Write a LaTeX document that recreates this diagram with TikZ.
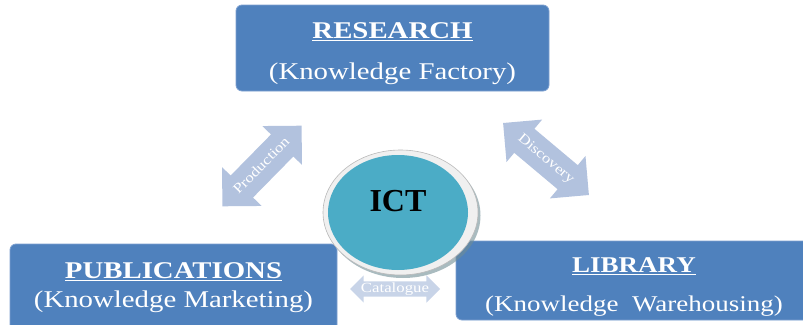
\documentclass[tikz,border=0pt]{standalone}
\usepackage{fontspec}
\setmainfont{Liberation Serif}
\newfontfamily\widefont{Liberation Serif}[FakeStretch=1.2]
\usetikzlibrary{
    shapes.geometric, % for the ellipse in the middle
    shapes.arrows,    % for the double arrows between the parts
    shadows           % for the shadow under the ellipse
}

\definecolor{boxblue}{RGB}{79,129,189}
\definecolor{boxedge}{RGB}{125,160,208}
\definecolor{arrowblue}{RGB}{178,194,222}
\definecolor{paleblue}{RGB}{200,212,232}
\definecolor{ictteal}{RGB}{75,172,198}
\definecolor{rimgray}{RGB}{240,240,240}

% text inside an arrow may run into the heads
\newcommand\arrowlabel[1]{\hbox to 0pt{\hss#1\hss}}

\begin{document}
\begin{tikzpicture}[
        x=1pt,y=-1pt,
        part/.style      = {rectangle,rounded corners=6pt,fill=boxblue,draw=boxedge,line width=0.8pt,inner sep=0pt},
        part text/.style = {text=white,align=center,inner sep=0pt,font=\widefont\fontsize{24}{29}\selectfont},
        link/.style      = {double arrow,double arrow head extend=12pt,fill=arrowblue,text=white,
                            inner xsep=0pt,inner ysep=9pt,text height=10pt,text depth=3pt,
                            font=\widefont\fontsize{14}{14}\selectfont}
    ]

    \clip (0,0) rectangle (803,324);

    % the three parts
    \node [part,minimum width=313pt,minimum height=86pt] (research) at (392.5,48) {};
    \node [part text] (research text) at (392.5,53.5)
        {\underline{\textbf{RESEARCH}}\\[12pt](Knowledge Factory)};

    \node [part,minimum width=327pt,minimum height=90pt] (publications) at (173.5,289) {};
    \node [part text] (publications text) at (173.5,288)
        {\underline{\textbf{PUBLICATIONS}}\\(Knowledge Marketing)};

    \node [part,minimum width=356pt,minimum height=79pt] (library) at (634,280.5) {};
    \node [part text,font=\widefont\fontsize{22.5}{29}\selectfont] (library text) at (634,287)
        {\underline{\textbf{LIBRARY}}\\[10pt](Knowledge~ Warehousing)};

    % arrows between them
    \node [link,minimum height=113pt,rotate=45.5] (production) at (262,166) {\arrowlabel{Production}};
    \node [link,minimum height=112pt,rotate=-40]  (discovery)  at (546,159) {\arrowlabel{Discovery}};
    \node [link,minimum height=90pt,fill=paleblue,double arrow head extend=6pt,
           inner ysep=1.5pt,text height=9pt] (catalogue) at (395,289) {\arrowlabel{Catalogue}};

    % ICT in the middle
    \node [ellipse,minimum width=155pt,minimum height=125pt,fill=rimgray,draw=gray!55,line width=0.6pt,
           drop shadow={shadow xshift=2.5pt,shadow yshift=-3pt,fill=gray!70!ictteal,opacity=0.6}]
        (ict rim) at (400.5,212.5) {};
    \node [ellipse,minimum width=140pt,minimum height=115pt,fill=ictteal,inner sep=0pt,
           text height=22pt,text depth=25pt,font=\fontsize{32}{32}\selectfont\bfseries]
        (ict) at (398,212.5) {ICT};

\end{tikzpicture}
\end{document}
